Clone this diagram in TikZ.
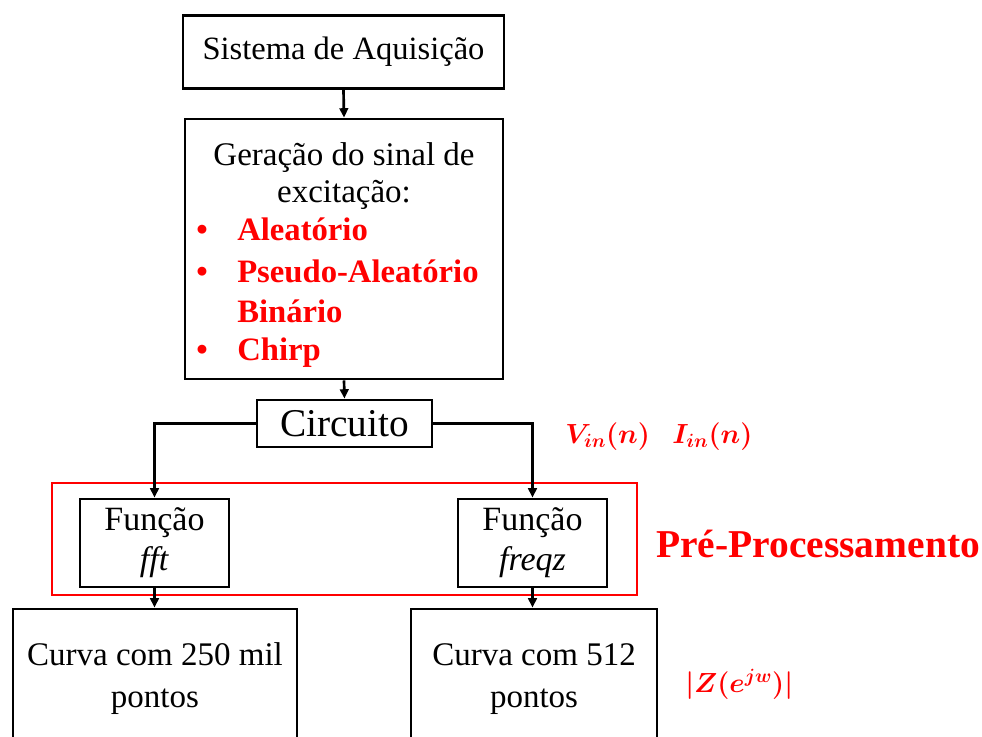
\documentclass[tikz,border=0pt]{standalone}
\usepackage{fontspec}
\setmainfont{Liberation Serif}
\usetikzlibrary{arrows.meta}
\begin{document}
\begin{tikzpicture}[x=0.75pt,y=-0.75pt,
  blk/.style={draw=black,line width=2.2pt,fill=white,inner sep=0pt,align=center},
  arr/.style={line width=2pt,-{Triangle[length=7pt,width=6.5pt]}},
  txt/.style={inner sep=0pt,font=\fontsize{24.75}{29}\selectfont},
  redtxt/.style={inner sep=0pt,text=red,font=\fontsize{24.5}{29}\selectfont\bfseries},
  mathlbl/.style={inner sep=0pt,text=red,font=\fontsize{22}{24}\selectfont\boldmath},
  fnbox/.style={blk,minimum width=111.75pt,minimum height=66pt,font=\fontsize{25.5}{30}\selectfont},
  curvabox/.style={blk,minimum height=105pt,font=\fontsize{24.75}{31.5}\selectfont}
]
\useasboundingbox (0,0) rectangle (982,736);
\clip (0,0) rectangle (982,736);
% red pre-processing frame
\node[draw=red,line width=1pt,minimum width=438.75pt,minimum height=84pt,inner sep=0pt] (pre) at (344.5,539) {};
% boxes
\node[blk,minimum width=240.75pt,minimum height=54.75pt,font=\fontsize{24.4}{30}\selectfont] (sis) at (343.5,52) {Sistema de Aquisição};
\node[blk,minimum width=238.5pt,minimum height=195pt] (gen) at (344,249) {};
\node[blk,minimum width=131.25pt,minimum height=35.25pt,font=\fontsize{29.5}{34}\selectfont] (circ) at (344.5,423.5) {Circuito};
\node[fnbox] (fft) at (154.5,543) {Função\\\textit{fft}};
\node[fnbox] (freqz) at (532.5,543) {Função\\\textit{freqz}};
\node[curvabox,minimum width=213pt] (c1) at (155,679) {Curva com 250 mil\\pontos};
\node[curvabox,minimum width=184.5pt] (c2) at (534,679) {Curva com 512\\pontos};
% text inside generation box
\node[txt,anchor=base] (g1) at (344,165) {Geração do sinal de};
\node[txt,anchor=base] (g2) at (344,202) {excitação:};
\node[redtxt,anchor=base] (b1) at (202,240) {•};
\node[redtxt,anchor=base west] (t1) at (237,240) {Aleatório};
\node[redtxt,anchor=base] (b2) at (202,282) {•};
\node[redtxt,anchor=base west] (t2) at (237,282) {Pseudo-Aleatório};
\node[redtxt,anchor=base west] (t3) at (237,322) {Binário};
\node[redtxt,anchor=base] (b4) at (202,360) {•};
\node[redtxt,anchor=base west] (t4) at (237,360) {Chirp};
% labels
\node[redtxt,anchor=base west,font=\fontsize{29.6}{32}\selectfont\bfseries] (prelbl) at (656,557) {Pré-Processamento};
\node[mathlbl,anchor=base west] (vin) at (565,443) {$V_{in}(n)$};
\node[mathlbl,anchor=base west] (iin) at (672,443) {$I_{in}(n)$};
\node[mathlbl,anchor=west] (zlbl) at (685,684) {$|Z\bigl(e^{jw}\bigr)|$};
% connectors
\draw[arr] (sis.south) -- (gen.north);
\draw[arr] (gen.south) -- (circ.north);
\draw[arr] (circ.west) -| (fft.north);
\draw[arr] (circ.east) -| (freqz.north);
\draw[arr] (fft.south) -- (fft.south |- c1.north);
\draw[arr] (freqz.south) -- (freqz.south |- c2.north);
\end{tikzpicture}
\end{document}
